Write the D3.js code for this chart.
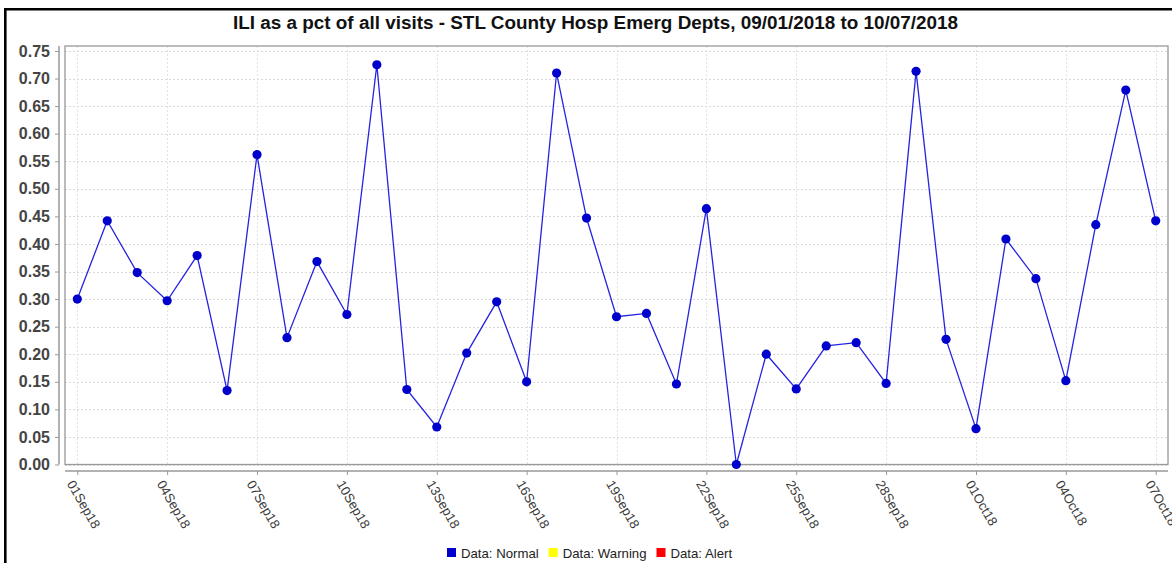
<!DOCTYPE html>
<html><head><meta charset="utf-8">
<script src="https://cdn.jsdelivr.net/npm/d3@7/dist/d3.min.js"></script>
<style>
body{margin:0;background:#fff;}
svg{display:block;font-family:"Liberation Sans",Arial,sans-serif;}
</style>
</head><body>
<svg id="chart" width="1172" height="563"></svg>
<script>
const titleText = "ILI as a pct of all visits - STL County Hosp Emerg Depts, 09/01/2018 to 10/07/2018";
const dates = ["2018-09-01","2018-09-02","2018-09-03","2018-09-04","2018-09-05","2018-09-06","2018-09-07","2018-09-08","2018-09-09","2018-09-10",
  "2018-09-11","2018-09-12","2018-09-13","2018-09-14","2018-09-15","2018-09-16","2018-09-17","2018-09-18","2018-09-19","2018-09-20",
  "2018-09-21","2018-09-22","2018-09-23","2018-09-24","2018-09-25","2018-09-26","2018-09-27","2018-09-28","2018-09-29","2018-09-30",
  "2018-10-01","2018-10-02","2018-10-03","2018-10-04","2018-10-05","2018-10-06","2018-10-07"];
const values = [0.300,0.442,0.348,0.297,0.379,0.134,0.562,0.230,0.368,0.272,
  0.725,0.136,0.068,0.202,0.295,0.150,0.710,0.447,0.268,0.274,
  0.146,0.464,0.000,0.200,0.137,0.215,0.221,0.147,0.713,0.227,
  0.065,0.409,0.337,0.152,0.435,0.679,0.442];
const tickDates = ["2018-09-01","2018-09-04","2018-09-07","2018-09-10","2018-09-13","2018-09-16","2018-09-19","2018-09-22","2018-09-25","2018-09-28","2018-10-01","2018-10-04","2018-10-07"];
const tickLabels = ["01Sep18","04Sep18","07Sep18","10Sep18","13Sep18","16Sep18","19Sep18","22Sep18","25Sep18","28Sep18","01Oct18","04Oct18","07Oct18"];
const yTicks = [0,0.05,0.10,0.15,0.20,0.25,0.30,0.35,0.40,0.45,0.50,0.55,0.60,0.65,0.70,0.75];
const legendLabels = ["Data: Normal","Data: Warning","Data: Alert"];
const legendColors = ["#0000cc","#ffff00","#ff0000"];

const svg = d3.select("#chart");
const parse = d3.utcParse("%Y-%m-%d");
const data = dates.map((d,i)=>({date:parse(d), v:values[i]}));

const plot = {left:65, right:1168, top:46, bottom:464.5};
const pad = 0.41*24*3600*1000;
const x0 = parse(dates[0]), x1 = parse(dates[dates.length-1]);
const x = d3.scaleUtc().domain([new Date(+x0 - pad), new Date(+x1 + pad)]).range([plot.left, plot.right]);
const y = d3.scaleLinear().domain([0, 0.759]).range([plot.bottom, plot.top]);

// outer border
svg.append("path").attr("d","M5.3,563 L5.3,9.3 L1172,9.3").attr("fill","none").attr("stroke","#000").attr("stroke-width",2.6);

// title
svg.append("text").attr("x",595.5).attr("y",29).attr("text-anchor","middle")
  .attr("font-size","18.9px").attr("font-weight","bold").attr("fill","#111").text(titleText);

// plot background
svg.append("rect").attr("x",plot.left).attr("y",plot.top).attr("width",plot.right-plot.left).attr("height",plot.bottom-plot.top).attr("fill","#fff");

// gridlines
const grid = svg.append("g");
grid.selectAll("line.h").data(yTicks).join("line").attr("class","h")
  .attr("x1",plot.left).attr("x2",plot.right).attr("y1",d=>Math.round(y(d))+0.5).attr("y2",d=>Math.round(y(d))+0.5)
  .attr("stroke","#d9d9d9").attr("stroke-width",1).attr("stroke-dasharray","2,2");
grid.selectAll("line.v").data(tickDates).join("line").attr("class","v")
  .attr("y1",plot.top).attr("y2",plot.bottom).attr("x1",d=>Math.round(x(parse(d)))+0.5).attr("x2",d=>Math.round(x(parse(d)))+0.5)
  .attr("stroke","#e3e3e3").attr("stroke-width",1).attr("stroke-dasharray","2,2");

// plot border
svg.append("rect").attr("x",plot.left).attr("y",plot.top).attr("width",plot.right-plot.left).attr("height",plot.bottom-plot.top)
  .attr("fill","none").attr("stroke","#999").attr("stroke-width",1.3);

// y axis
const yAxis = d3.axisLeft(y).tickValues(yTicks).tickFormat(d3.format(".2f")).tickSize(4).tickPadding(5);
const gy = svg.append("g").attr("transform","translate(59,0)").call(yAxis);
gy.select(".domain").attr("stroke","#999").attr("stroke-width",1.5).attr("d",`M0,${plot.top}V${plot.bottom}`);
gy.selectAll(".tick line").attr("stroke","#999");
gy.selectAll(".tick text").attr("font-family","Liberation Sans, Arial, sans-serif").attr("font-size","16px").attr("font-weight","bold").attr("fill","#444");

// x axis
const xAxis = d3.axisBottom(x).tickValues(tickDates.map(parse)).tickFormat((d,i)=>tickLabels[i]).tickSize(4);
const gx = svg.append("g").attr("transform","translate(0,471)").call(xAxis);
gx.select(".domain").attr("stroke","#999").attr("stroke-width",1.5).attr("d",`M${plot.left},0H${plot.right}`);
gx.selectAll(".tick line").attr("stroke","#999");
gx.selectAll(".tick text").attr("font-family","Liberation Sans, Arial, sans-serif").attr("font-size","13.2px").attr("fill","#3a3a3a")
  .attr("text-anchor","start").attr("y",0).attr("dy","0.72em")
  .attr("transform","translate(-3,8) rotate(60)");

// line
svg.append("path").datum(data).attr("fill","none").attr("stroke","#2424e0").attr("stroke-width",1.3)
  .attr("d", d3.line().x(d=>x(d.date)).y(d=>y(d.v)));
svg.append("g").selectAll("circle").data(data).join("circle")
  .attr("cx",d=>x(d.date)).attr("cy",d=>y(d.v)).attr("r",4.6).attr("fill","#0000cc");

// legend
const lg = svg.append("g").attr("font-size","13.2px").attr("fill","#222");
let lx = 447;
legendLabels.forEach((lab,i)=>{
  lg.append("rect").attr("x",lx).attr("y",548).attr("width",9).attr("height",9).attr("fill",legendColors[i]);
  const t = lg.append("text").attr("x",lx+14).attr("y",558).text(lab);
  lx += 14 + t.node().getComputedTextLength() + 10;
});
</script>
</body></html>
